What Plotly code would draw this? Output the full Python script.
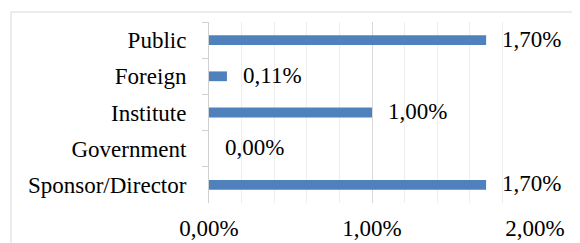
import plotly.graph_objects as go

categories = ["Public", "Foreign", "Institute", "Government", "Sponsor/Director"]
values = [0.017, 0.0011, 0.010, 0.0, 0.017]
x_ticks = [0.0, 0.01, 0.02]

FONT = "Liberation Serif"
FS = 23

# page body adds ~8px offset; compensate so plot area sits at (209..535, 22..203)
W, H = 572, 235
L, R, T = 201, 45, 14
B = H - T - 181

fig = go.Figure(go.Bar(
    y=categories, x=values, orientation="h",
    marker=dict(color="#4F81BD", line=dict(width=0)),
    width=0.27, hoverinfo="skip",
))

for c, v in zip(categories, values):
    fig.add_annotation(
        x=v, y=c, xref="x", yref="y", text=f"{v*100:.2f}%".replace(".", ","),
        showarrow=False, xanchor="left", yanchor="middle", xshift=14, yshift=1,
        font=dict(family=FONT, size=FS, color="#000000"),
    )

fig.update_layout(
    width=W, height=H,
    margin=dict(l=L, r=R, t=T, b=B, autoexpand=False),
    paper_bgcolor="white", plot_bgcolor="white",
    separators=", ",
    showlegend=False,
    font=dict(family=FONT, size=FS, color="#000000"),
    xaxis=dict(
        range=[0, 0.02], tickvals=x_ticks, tickformat=".2%",
        showgrid=True, gridcolor="#d9d9d9", gridwidth=1,
        minor=dict(dtick=0.002, showgrid=True, gridcolor="#eeeeee", gridwidth=1),
        zeroline=False, showline=False, ticks="",
        ticklabelstandoff=9, automargin=False,
        tickfont=dict(family=FONT, size=FS, color="#000000"),
    ),
    yaxis=dict(
        autorange="reversed", showgrid=False, zeroline=False,
        showline=True, linecolor="#d0d0d0", linewidth=1,
        ticks="outside", tickson="boundaries", ticklen=6, tickcolor="#d0d0d0",
        ticklabelstandoff=17, automargin=False,
        tickfont=dict(family=FONT, size=FS, color="#000000"),
    ),
    shapes=[dict(type="rect", xref="paper", yref="paper",
                 x0=(11 - 209) / 326, x1=2.0, y0=-1.0, y1=(203 - 12) / 181,
                 line=dict(color="#d9d9d9", width=1), fillcolor="rgba(0,0,0,0)",
                 layer="below")],
)

fig.write_html("out.html")
